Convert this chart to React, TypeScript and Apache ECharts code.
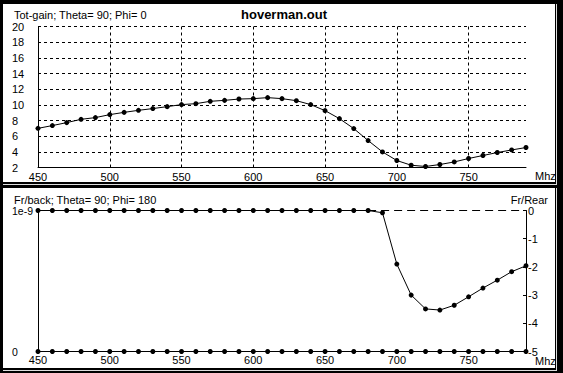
import React, { useEffect, useRef } from "react";
import * as echarts from "echarts";

const freq = [450, 460, 470, 480, 490, 500, 510, 520, 530, 540, 550, 560, 570, 580, 590, 600, 610, 620, 630, 640, 650, 660, 670, 680, 690, 700, 710, 720, 730, 740, 750, 760, 770, 780, 790];
const totGain = [7.0, 7.35, 7.73, 8.15, 8.37, 8.75, 9.04, 9.3, 9.52, 9.77, 10.03, 10.15, 10.45, 10.57, 10.74, 10.79, 10.92, 10.79, 10.53, 10.03, 9.26, 8.24, 6.97, 5.44, 3.99, 2.89, 2.29, 2.13, 2.38, 2.71, 3.15, 3.53, 3.91, 4.24, 4.55];
const frBack = [0, 0, 0, 0, 0, 0, 0, 0, 0, 0, 0, 0, 0, 0, 0, 0, 0, 0, 0, 0, 0, 0, 0, 0, 0, 0, 0, 0, 0, 0, 0, 0, 0, 0, 0];
const frRear = [0, 0, 0, 0, 0, 0, 0, 0, 0, 0, 0, 0, 0, 0, 0, 0, 0, 0, 0, 0, 0, 0, 0, 0, -0.08, -1.9, -3.0, -3.49, -3.53, -3.36, -3.06, -2.75, -2.47, -2.17, -1.96];
const refX = [680, 790];
const refY = [0, 0];
const gainTicks = { min: 2, max: 20, interval: 2 };
const rearTicks = { min: -5, max: 0, interval: 1 };
const backTicks = { min: 0, max: 1e-9, interval: 1e-9 };
const freqTicks = { min: 450, max: 790, interval: 50 };

const FONT = "'Liberation Sans', Arial, sans-serif";

export default function App() {
  const ref = useRef<HTMLDivElement>(null);
  useEffect(() => {
    if (!ref.current) return;
    const chart = echarts.init(ref.current, undefined, { renderer: "svg" });
    const pair = (xs: number[], ys: number[]) => xs.map((x, i) => [x, ys[i]]);
    const txt = { fontFamily: FONT, fontSize: 11, color: "#000" };
    const splitColors = ["#000", "#000", "#000", "#000", "#000", "#000", "#000", "rgba(0,0,0,0)"];
    const lineSeries = (name: string, xi: number, yi: number, data: number[][]) => ({
      name,
      type: "line",
      xAxisIndex: xi,
      yAxisIndex: yi,
      data,
      symbol: "circle",
      symbolSize: 5,
      showSymbol: true,
      clip: false,
      itemStyle: { color: "#000" },
      lineStyle: { color: "#000", width: 1 },
      z: 5,
    });
    chart.setOption({
      animation: false,
      backgroundColor: "#000",
      textStyle: { fontFamily: FONT },
      graphic: [
        { type: "rect", z: -10, shape: { x: 3, y: 4, width: 552, height: 178 }, style: { fill: "#fff" } },
        { type: "rect", z: -10, shape: { x: 3, y: 188, width: 552, height: 180 }, style: { fill: "#fff" } },
        { type: "line", z: -10, shape: { x1: 3, y1: 184.5, x2: 557, y2: 184.5 }, style: { stroke: "#ddd", lineWidth: 1 } },
        { type: "line", z: -10, shape: { x1: 556.5, y1: 4, x2: 556.5, y2: 185 }, style: { stroke: "#ddd", lineWidth: 1 } },
        { type: "line", z: -10, shape: { x1: 3, y1: 370.5, x2: 557, y2: 370.5 }, style: { stroke: "#ddd", lineWidth: 1 } },
        { type: "line", z: -10, shape: { x1: 556.5, y1: 188, x2: 556.5, y2: 371 }, style: { stroke: "#ddd", lineWidth: 1 } },
        { type: "text", x: 14, y: 14.5, style: { text: "Tot-gain; Theta= 90; Phi= 0", font: `11px ${FONT}`, fill: "#000", verticalAlign: "middle", align: "left" } },
        { type: "text", x: 284, y: 14, style: { text: "hoverman.out", font: `bold 13px ${FONT}`, fill: "#000", verticalAlign: "middle", align: "center" } },
        { type: "text", x: 535, y: 176, style: { text: "Mhz", font: `11px ${FONT}`, fill: "#000", verticalAlign: "middle", align: "left" } },
        { type: "text", x: 14, y: 199.5, style: { text: "Fr/back; Theta= 90; Phi= 180", font: `11px ${FONT}`, fill: "#000", verticalAlign: "middle", align: "left" } },
        { type: "text", x: 548, y: 199.5, style: { text: "Fr/Rear", font: `11px ${FONT}`, fill: "#000", verticalAlign: "middle", align: "right" } },
        { type: "text", x: 535, y: 361, style: { text: "Mhz", font: `11px ${FONT}`, fill: "#000", verticalAlign: "middle", align: "left" } },
      ],
      grid: [
        { left: 38, right: 37, top: 26.5, height: 141 },
        { left: 38, right: 37, top: 210.5, height: 141 },
      ],
      xAxis: [
        {
          type: "value", gridIndex: 0, ...freqTicks,
          axisLine: { show: true, lineStyle: { color: "#000", width: 1 } },
          axisTick: { show: false },
          axisLabel: { ...txt, margin: 4, showMaxLabel: false },
          splitLine: { show: true, lineStyle: { color: splitColors, type: [3, 3], width: 1 } },
        },
        {
          type: "value", gridIndex: 1, ...freqTicks,
          axisLine: { show: true, lineStyle: { color: "#000", width: 1 } },
          axisTick: { show: false },
          axisLabel: { ...txt, margin: 3, showMaxLabel: false },
          splitLine: { show: false },
        },
      ],
      yAxis: [
        {
          type: "value", gridIndex: 0, ...gainTicks,
          axisLine: { show: true, lineStyle: { color: "#000", width: 1 } },
          axisTick: { show: false },
          axisLabel: { ...txt, align: "left", margin: 26 },
          splitLine: { show: true, lineStyle: { color: "#000", type: [3, 3], width: 1 } },
        },
        {
          type: "value", gridIndex: 1, position: "left", ...backTicks,
          axisLine: { show: true, lineStyle: { color: "#000", width: 1 } },
          axisTick: { show: false },
          axisLabel: { ...txt, fontSize: 10.5, align: "left", margin: 26, formatter: (v: number) => (v === 0 ? "0" : "1e-9") },
          splitLine: { show: false },
        },
        {
          type: "value", gridIndex: 1, position: "right", ...rearTicks,
          axisLine: { show: true, lineStyle: { color: "#000", width: 1 } },
          axisTick: { show: true, inside: true, length: 3, lineStyle: { color: "#000" } },
          axisLabel: { ...txt, align: "left", margin: 2 },
          splitLine: { show: false },
        },
      ],
      series: [
        lineSeries("Tot-gain", 0, 0, pair(freq, totGain)),
        lineSeries("Fr/back", 1, 1, pair(freq, frBack)),
        lineSeries("Fr/Rear", 1, 2, pair(freq, frRear)),
        {
          name: "Fr/Rear ref",
          type: "line",
          xAxisIndex: 1,
          yAxisIndex: 2,
          data: pair(refX, refY),
          symbol: "none",
          clip: false,
          lineStyle: { color: "#000", width: 1, type: [8, 5] },
          z: 4,
        },
      ],
    });
    return () => chart.dispose();
  }, []);
  return <div ref={ref} style={{ position: "fixed", left: 0, top: 0, width: 563, height: 373 }} />;
}
